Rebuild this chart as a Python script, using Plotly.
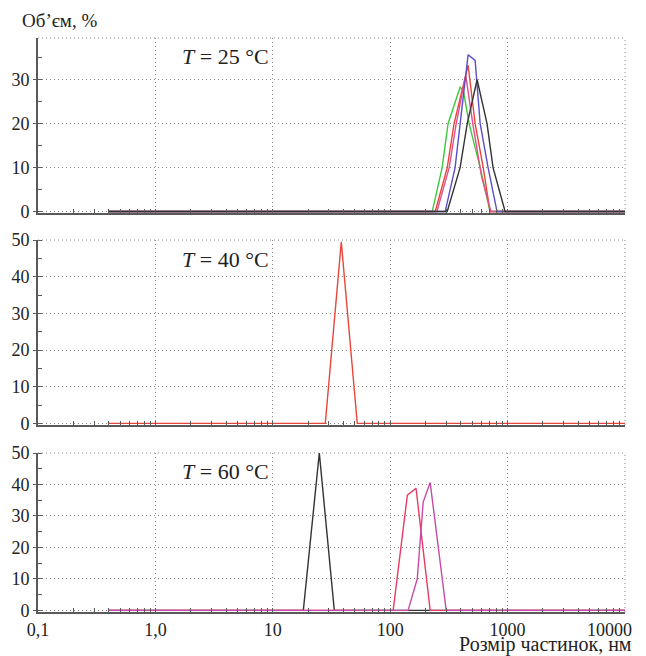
import plotly.graph_objects as go

# ---------------- data ----------------
x_tick_vals = [0.1, 1, 10, 100, 1000, 10000]
x_tick_text = ["0,1", "1,0", "10", "100", "1000", "10000"]

# T = 25 °C
t25_green_x = [0.4, 228, 277, 311, 394, 420, 470, 584, 709, 10000]
t25_green_y = [0, 0, 10, 20, 28.3, 27.5, 20, 10, 0, 0]
t25_red_x = [0.4, 242, 306, 350, 461, 529, 620, 709, 10000]
t25_red_y = [0, 0, 10, 20, 33.3, 20, 10, 0, 0]
t25_pink_x = [0.4, 250, 318, 365, 440, 505, 600, 720, 10000]
t25_pink_y = [0, 0, 10, 20, 31, 20, 8, 0, 0]
t25_blue_x = [0.4, 294, 357, 394, 461, 529, 584, 682, 813, 10000]
t25_blue_y = [0, 0, 10, 20, 35.7, 34.4, 20, 10, 0, 0]
t25_black_x = [0.4, 306, 394, 453, 550, 668, 752, 952, 10000]
t25_black_y = [0, 0, 10, 20, 30, 20, 10, 0, 0]

# T = 40 °C
t40_red_x = [0.4, 28, 38.3, 52.4, 10000]
t40_red_y = [0, 0, 49.5, 0, 0]

# T = 60 °C
t60_black_x = [0.4, 18.2, 24.9, 33.4, 10000]
t60_black_y = [0, 0, 50, 0, 0]
t60_crimson_x = [0.4, 106, 140, 166, 219, 10000]
t60_crimson_y = [0, 0, 36.6, 38.8, 0, 0]
t60_magenta_x = [0.4, 142, 170, 191, 219, 300, 10000]
t60_magenta_y = [0, 0, 10, 34.4, 40.6, 0, 0]

# ---------------- figure ----------------
FONT = "Liberation Serif, Times New Roman, serif"
AXC = "#5a5a5a"
GRIDC = "#8a8a8a"
GRIDDASH = "1px,3px"
TXT = "#222222"

fig = go.Figure()

def add(x, y, color, ax):
    fig.add_trace(go.Scatter(x=x, y=y, mode="lines", line=dict(color=color, width=1.4),
                             xaxis="x" + ax, yaxis="y" + ax, showlegend=False, hoverinfo="skip"))

add(t25_green_x, t25_green_y, "#3ec83e", "")
add(t25_red_x, t25_red_y, "#e8463a", "")
add(t25_pink_x, t25_pink_y, "#e0508a", "")
add(t25_blue_x, t25_blue_y, "#5a4fc8", "")
add(t25_black_x, t25_black_y, "#333333", "")

add(t40_red_x, t40_red_y, "#e8463a", "2")

add(t60_black_x, t60_black_y, "#333333", "3")
add(t60_crimson_x, t60_crimson_y, "#e83a62", "3")
add(t60_magenta_x, t60_magenta_y, "#c84aa8", "3")

minor_x = [m * 10 ** e for e in range(-1, 4) for m in range(2, 10)]

def xax(y_anchor, show_labels):
    labels = x_tick_text[:-1] + [""]  # last label placed as annotation (shifted left)
    return dict(
        type="log", range=[-1, 4], anchor=y_anchor,
        tickmode="array", tickvals=x_tick_vals, ticktext=labels,
        showticklabels=show_labels, automargin=False,
        ticks="inside", ticklen=4, tickcolor=AXC,
        showgrid=True, gridcolor=GRIDC, griddash=GRIDDASH, gridwidth=1,
        showline=True, linecolor=AXC, linewidth=2,
        zeroline=False,
        minor=dict(tickmode="array", tickvals=minor_x, ticks="inside", ticklen=4,
                   tickcolor=AXC, showgrid=False),
        tickfont=dict(family=FONT, size=18, color=TXT),
    )

def yax(domain, rng, x_anchor):
    return dict(
        domain=domain, range=rng, anchor=x_anchor, automargin=False,
        tickmode="linear", tick0=0, dtick=10,
        ticks="outside", ticklen=3, tickcolor=AXC,
        showgrid=True, gridcolor=GRIDC, griddash=GRIDDASH, gridwidth=1,
        showline=True, linecolor=AXC, linewidth=2,
        zeroline=False,
        minor=dict(tick0=0, dtick=5, ticks="inside", ticklen=4, tickcolor=AXC, showgrid=False),
        tickfont=dict(family=FONT, size=18, color=TXT),
    )

d3 = [0.0, 0.277]
d2 = [0.3258, 0.648]
d1 = [0.695, 1.0]

fig.update_layout(
    width=646, height=656,
    margin=dict(l=38, r=21, t=38, b=44),
    paper_bgcolor="white", plot_bgcolor="white",
    xaxis=xax("y", False),
    yaxis=yax(d1, [-0.35, 39.5], "x"),
    xaxis2=xax("y2", False),
    yaxis2=yax(d2, [-0.45, 50], "x2"),
    xaxis3=xax("y3", True),
    yaxis3=yax(d3, [-0.5, 50], "x3"),
)

# dotted top and right borders
for dom in (d1, d2, d3):
    fig.add_shape(type="line", xref="paper", yref="paper", x0=0, x1=1, y0=dom[1], y1=dom[1],
                  line=dict(color=GRIDC, width=1, dash=GRIDDASH))
    fig.add_shape(type="line", xref="paper", yref="paper", x0=1, x1=1, y0=dom[0], y1=dom[1],
                  line=dict(color=GRIDC, width=1, dash=GRIDDASH))

def px_x(p):
    return (p - 38) / 587

def px_y(p):
    return (612 - p) / 574

ann_font = dict(family=FONT, size=22, color=TXT)
for label, ypix in (("25", 57), ("40", 259), ("60", 471)):
    fig.add_annotation(text="<i>T</i> = " + label + " °C", xref="paper", yref="paper",
                       x=px_x(225), y=px_y(ypix), showarrow=False,
                       xanchor="center", yanchor="middle", font=ann_font)

# last x tick label, shifted so it ends past the axis end like the reference
fig.add_annotation(text=x_tick_text[-1], xref="paper", yref="paper",
                   x=px_x(634), y=px_y(630), showarrow=False,
                   xanchor="right", yanchor="middle", font=dict(family=FONT, size=18, color=TXT))

fig.add_annotation(text="Об’єм, %", xref="paper", yref="paper",
                   x=px_x(20), y=px_y(20), showarrow=False,
                   xanchor="left", yanchor="middle", font=dict(family=FONT, size=19, color=TXT))
fig.add_annotation(text="Розмір частинок, нм", xref="paper", yref="paper",
                   x=px_x(634), y=px_y(644), showarrow=False,
                   xanchor="right", yanchor="middle", font=dict(family=FONT, size=20, color=TXT))

fig.write_html("out.html", config={"displayModeBar": False},
               post_script="document.body.style.margin='0';document.body.style.overflow='hidden';")
